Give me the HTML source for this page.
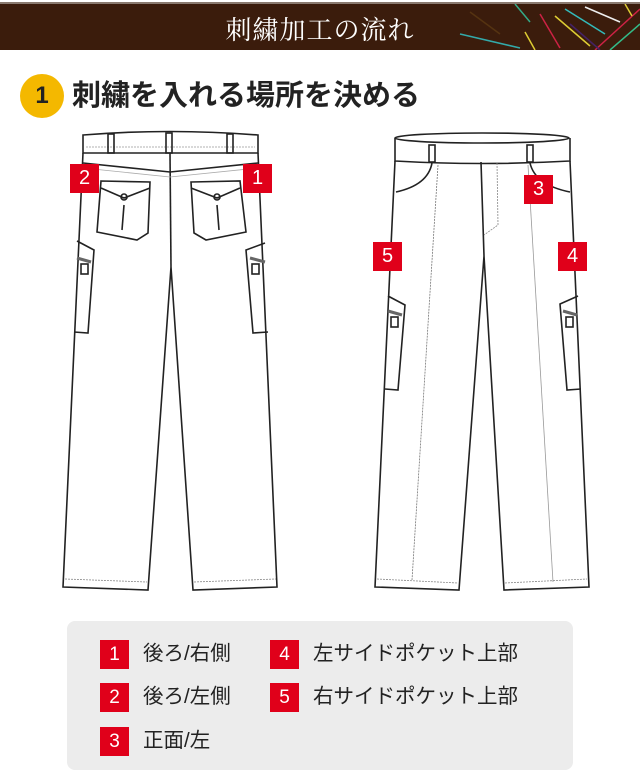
<!DOCTYPE html>
<html><head><meta charset="utf-8"><style>
*{margin:0;padding:0}
body{width:640px;height:782px;background:#fff;overflow:hidden;position:relative;font-family:"Liberation Sans","Noto Sans CJK JP",sans-serif}
.hdr{position:absolute;left:0;top:2px;width:640px;height:46px;background:#3b1c0c;border-top:2px solid #8a7a70}
.hdr .t{position:absolute;left:0;right:0;top:6px;text-align:center;color:#fff;font-family:"Liberation Serif","Noto Serif CJK SC",serif;font-size:26px;letter-spacing:1px}
.h1{position:absolute;left:20px;top:74px}
.circ{position:absolute;left:0;top:0;width:44px;height:44px;border-radius:50%;background:#f4b800;font-weight:bold;font-size:24px;text-align:center;line-height:44px;color:#222}
.h1 .tx{position:absolute;left:52px;top:0;white-space:nowrap;font-size:29px;font-weight:bold;line-height:44px;color:#222}
.lg{position:absolute;left:67px;top:621px;width:506px;height:149px;background:#ececec;border-radius:8px}
.it{position:absolute;font-size:20.5px;color:#222;white-space:nowrap;line-height:29px}
.it b{display:inline-block;width:29px;height:29px;background:#e0001a;color:#fff;font-weight:normal;text-align:center;margin-right:14px;font-size:19px}
.mk{position:absolute;width:29px;height:29px;background:#e0001a;color:#fff;text-align:center;line-height:29px;font-size:20px}
</style></head><body>
<div class="hdr"><div class="t">刺繍加工の流れ</div>
<svg width="640" height="46" style="position:absolute;left:0;top:0">
<g stroke-width="1.5" fill="none">
<line x1="460" y1="30" x2="520" y2="44" stroke="#3aa"/>
<line x1="470" y1="8" x2="500" y2="30" stroke="#531"/>
<line x1="515" y1="0" x2="530" y2="18" stroke="#3a8"/>
<line x1="525" y1="28" x2="535" y2="46" stroke="#dc3"/>
<line x1="540" y1="10" x2="560" y2="44" stroke="#c24"/>
<line x1="555" y1="12" x2="590" y2="42" stroke="#dc3"/>
<line x1="565" y1="5" x2="605" y2="30" stroke="#3bb"/>
<line x1="585" y1="3" x2="620" y2="18" stroke="#eee"/>
<line x1="595" y1="46" x2="640" y2="5" stroke="#c24"/>
<line x1="610" y1="46" x2="640" y2="20" stroke="#3b8"/>
<line x1="625" y1="0" x2="632" y2="12" stroke="#dc3"/>
<line x1="570" y1="20" x2="600" y2="46" stroke="#426"/>
</g></svg></div>
<div class="h1"><div class="circ">1</div><div class="tx">刺繍を入れる場所を決める</div></div>

<svg width="640" height="610" style="position:absolute;left:0;top:0" fill="none" stroke="#222" stroke-width="1.6">
<!-- back pants -->
<path d="M83,135 Q170,128 258,135 L258,153 L83,153 Z" fill="#fff"/>
<path d="M86,147 L255,147" stroke="#999" stroke-width="0.8" stroke-dasharray="2,1"/>
<rect x="108" y="134" width="6" height="19"/><rect x="166" y="133" width="6" height="20"/><rect x="227" y="134" width="6" height="19"/>
<path d="M83,153 L63,587 L148,590 L171,267 L193,590 L277,587 L258,153"/>
<path d="M170,153 L171,267"/>
<path d="M83,163 L170,172 L258,163"/>
<path d="M83,168 L170,177 L258,168" stroke="#aaa" stroke-width="0.8"/>
<path d="M65,579 L147,582 M194,582 L276,579" stroke="#888" stroke-width="0.8" stroke-dasharray="2,1"/>
<path d="M101,181 L150,182 L148,233 L137,240 L97,232 Z"/>
<path d="M101,188 L124,198 L150,188" />
<circle cx="124" cy="197" r="3"/><path d="M124,205 L122,230"/>
<path d="M191,182 L240,181 L246,232 L206,240 L194,233 Z"/>
<path d="M191,188 L217,198 L240,188"/>
<circle cx="217" cy="197" r="3"/><path d="M217,205 L219,230"/>
<path d="M77,241 L94,250 L88,333 L74,332"/>
<path d="M77,258 L91,262" stroke-width="3" stroke="#666"/><rect x="81" y="264" width="7" height="10"/>
<path d="M265,243 L246,250 L253,333 L268,332"/>
<path d="M250,258 L265,262" stroke-width="3" stroke="#666"/><rect x="252" y="264" width="7" height="10"/>
<!-- front pants -->
<ellipse cx="482" cy="138" rx="87" ry="5" fill="#fff"/>
<path d="M395,138 L395,161 Q482,166 570,161 L570,138"/>
<rect x="429" y="145" width="6" height="17"/><rect x="527" y="145" width="6" height="17"/>
<path d="M395,161 L375,587 L459,590 L484,256 L504,590 L589,587 L570,161"/>
<path d="M481,162 L484,256"/>
<path d="M432,163 Q428,185 396,192 M530,163 Q535,185 570,192"/>
<path d="M497,163 L498,225 L484,235" stroke="#888" stroke-width="0.8" stroke-dasharray="2,1"/>
<path d="M438,165 L412,580" stroke="#777" stroke-width="0.8" stroke-dasharray="2,1"/>
<path d="M528,165 L553,582" stroke="#999" stroke-width="0.8"/>
<path d="M377,579 L458,583 M505,583 L587,579" stroke="#888" stroke-width="0.8" stroke-dasharray="2,1"/>
<path d="M388,296 L405,305 L398,390 L385,389"/>
<path d="M388,311 L402,315" stroke-width="3" stroke="#666"/><rect x="391" y="317" width="7" height="10"/>
<path d="M578,296 L560,304 L567,390 L581,389"/>
<path d="M563,311 L577,315" stroke-width="3" stroke="#666"/><rect x="566" y="317" width="7" height="10"/>
</svg>
<div class="mk" style="left:70px;top:164px">2</div>
<div class="mk" style="left:243px;top:164px">1</div>
<div class="mk" style="left:524px;top:175px">3</div>
<div class="mk" style="left:373px;top:242px">5</div>
<div class="mk" style="left:558px;top:242px">4</div>

<div class="lg"></div>
<div class="it" style="left:100px;top:639px"><b>1</b>後ろ/右側</div>
<div class="it" style="left:100px;top:682px"><b>2</b>後ろ/左側</div>
<div class="it" style="left:100px;top:726px"><b>3</b>正面/左</div>
<div class="it" style="left:270px;top:639px"><b>4</b>左サイドポケット上部</div>
<div class="it" style="left:270px;top:682px"><b>5</b>右サイドポケット上部</div>
</body></html>
